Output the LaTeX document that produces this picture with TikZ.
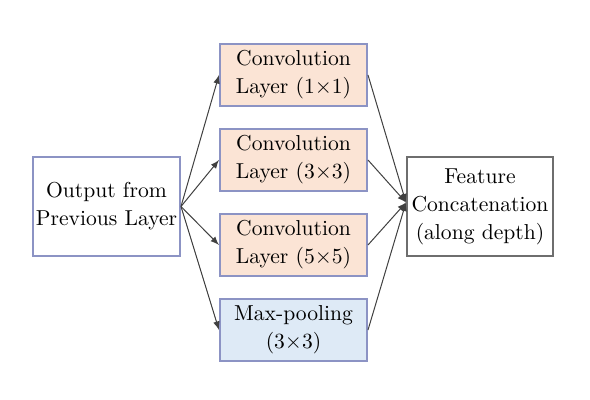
\documentclass[tikz,border=0pt]{standalone}
\usetikzlibrary{positioning}
\definecolor{peach}{HTML}{FBE4D5}
\definecolor{paleblue}{HTML}{DEEAF6}
\definecolor{frameblue}{HTML}{8C93C4}
\definecolor{framegray}{HTML}{6E6E6E}
\begin{document}
\begin{tikzpicture}[
            every node/.style={rectangle, align=center, font=\fontsize{10.8}{14}\selectfont, inner sep=1pt},
            layer/.style={draw=frameblue, line width=1pt, minimum width=73.5pt, minimum height=31pt},
            conv/.style={layer, fill=peach},
            pool/.style={layer, fill=paleblue},
            io/.style={draw=frameblue, line width=1pt, fill=white, minimum width=73.5pt, minimum height=49.5pt},
            link/.style={draw=black!75, line width=0.5pt, -latex}]
        \useasboundingbox (-146.75pt,37.5pt) rectangle (148.25pt,-162.5pt);
        \node [conv] (conv1) at (0,0) {Convolution\\Layer (1$\times$1)};
        \node [conv, below=10.5pt of conv1] (conv3) {Convolution\\Layer (3$\times$3)};
        \node [conv, below=10.5pt of conv3] (conv5) {Convolution\\Layer (5$\times$5)};
        \node [pool, below=10.5pt of conv5] (maxpool) {Max-pooling\\(3$\times$3)};
        \node [io] (prev) at (-93.5pt,-65.75pt) {Output from\\Previous Layer};
        \node [io, draw=framegray, minimum width=73pt] (concat) at (93.25pt,-65.75pt) {Feature\\Concatenation\\(along depth)};
        \coordinate (merge) at ([yshift=2pt]concat.west);
        % fan out / fan in
        \foreach \b in {conv1, conv3, conv5, maxpool} {
            \draw [link] (prev.east) -- (\b.west);
            \draw [link] (\b.east) -- (merge);
        }
    \end{tikzpicture}
\end{document}
